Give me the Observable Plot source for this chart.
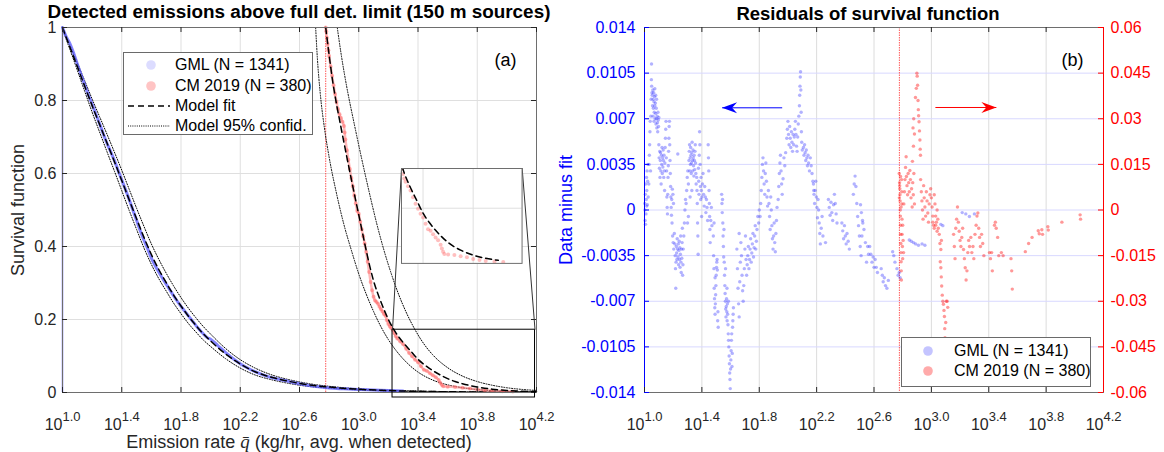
<!DOCTYPE html>
<html>
<head>
<meta charset="utf-8">
<script src="https://cdn.jsdelivr.net/npm/d3@7"></script>
<script src="https://cdn.jsdelivr.net/npm/@observablehq/plot@0.6"></script>
<style>
  html, body { margin: 0; padding: 0; background: #fff; }
  #wrap { position: relative; width: 1164px; height: 452px; overflow: hidden;
          font-family: "Liberation Sans", Arial, Helvetica, sans-serif; color: #262626; }
  #wrap svg { overflow: visible; }
  .abs { position: absolute; white-space: nowrap; }
</style>
</head>
<body>
<div id="wrap"></div>
<script>
// ================= DATA =================
// x axis: log10 of emission rate (kg/hr)
const xTickExps = [1.0, 1.4, 1.8, 2.2, 2.6, 3.0, 3.4, 3.8, 4.2];
const xTickLabels = ["1.0", "1.4", "1.8", "2.2", "2.6", "3.0", "3.4", "3.8", "4.2"];
const survTicks = [0, 0.2, 0.4, 0.6, 0.8, 1];
const gmlResTicks = [-0.014, -0.0105, -0.007, -0.0035, 0, 0.0035, 0.007, 0.0105, 0.014];
const cmResTicks = [-0.06, -0.045, -0.03, -0.015, 0, 0.015, 0.03, 0.045, 0.06];
const gmlStartExp = 1.0;      // GML detection limit (log10 kg/hr)
const cmThresholdExp = 2.777; // CM 2019 detection limit (log10 kg/hr)

// survival function [log10 q, S]
const gmlSurv = [[1.00,1.000],[1.025,0.975],[1.05,0.956],[1.075,0.930],[1.10,0.900],[1.125,0.871],[1.15,0.843],[1.175,0.815],[1.20,0.790],[1.225,0.763],[1.25,0.737],[1.275,0.709],[1.30,0.683],[1.325,0.660],[1.35,0.636],[1.375,0.609],[1.40,0.583],[1.425,0.556],[1.45,0.529],[1.475,0.500],[1.50,0.472],[1.525,0.443],[1.55,0.417],[1.575,0.394],[1.60,0.368],[1.625,0.348],[1.65,0.330],[1.675,0.313],[1.70,0.297],[1.725,0.281],[1.75,0.265],[1.775,0.250],[1.80,0.236],[1.825,0.223],[1.85,0.210],[1.875,0.197],[1.90,0.184],[1.925,0.172],[1.95,0.161],[1.975,0.151],[2.00,0.146],[2.05,0.128],[2.10,0.110],[2.15,0.093],[2.20,0.079],[2.25,0.067],[2.30,0.057],[2.35,0.049],[2.40,0.042],[2.45,0.037],[2.50,0.033],[2.55,0.028],[2.60,0.024],[2.65,0.020],[2.70,0.017],[2.75,0.015],[2.80,0.0125],[2.90,0.0100],[3.00,0.0080],[3.10,0.0066],[3.20,0.0052],[3.30,0.0040]];
const gmlFit = [[1.00,1.000],[1.05,0.946],[1.10,0.893],[1.15,0.839],[1.20,0.786],[1.25,0.735],[1.30,0.684],[1.35,0.633],[1.40,0.581],[1.45,0.528],[1.50,0.476],[1.55,0.425],[1.60,0.378],[1.65,0.337],[1.70,0.301],[1.75,0.267],[1.80,0.237],[1.85,0.209],[1.90,0.184],[1.95,0.161],[2.00,0.141],[2.10,0.106],[2.20,0.078],[2.30,0.057],[2.40,0.043],[2.50,0.033],[2.60,0.025],[2.70,0.019],[2.80,0.015],[3.00,0.0088],[3.20,0.0053],[3.40,0.0033],[3.60,0.0021],[3.80,0.0013],[4.00,0.0008],[4.20,0.0005]];
const gmlUpper = [[1.00,1.000],[1.05,0.952],[1.10,0.903],[1.15,0.854],[1.20,0.804],[1.25,0.756],[1.30,0.708],[1.35,0.659],[1.40,0.609],[1.45,0.557],[1.50,0.505],[1.55,0.455],[1.60,0.407],[1.65,0.365],[1.70,0.327],[1.75,0.292],[1.80,0.260],[1.85,0.231],[1.90,0.205],[1.95,0.181],[2.00,0.160],[2.10,0.121],[2.20,0.090],[2.30,0.067],[2.40,0.050],[2.50,0.038],[2.60,0.029],[2.70,0.022],[2.80,0.017],[3.00,0.010],[3.20,0.0062],[3.40,0.0039],[3.60,0.0025],[3.80,0.0016],[4.00,0.0010],[4.20,0.0006]];
const gmlLower = [[1.00,0.995],[1.05,0.940],[1.10,0.883],[1.15,0.825],[1.20,0.768],[1.25,0.714],[1.30,0.660],[1.35,0.607],[1.40,0.553],[1.45,0.499],[1.50,0.447],[1.55,0.396],[1.60,0.351],[1.65,0.312],[1.70,0.278],[1.75,0.245],[1.80,0.216],[1.85,0.189],[1.90,0.166],[1.95,0.144],[2.00,0.126],[2.10,0.093],[2.20,0.067],[2.30,0.048],[2.40,0.036],[2.50,0.027],[2.60,0.020],[2.70,0.015],[2.80,0.012],[3.00,0.007],[3.20,0.0042],[3.40,0.0026],[3.60,0.0016],[3.80,0.0010],[4.00,0.0006],[4.20,0.0004]];

const cmSurv = [[2.777,1.000],[2.78,0.990],[2.785,0.972],[2.79,0.955],[2.795,0.938],[2.80,0.922],[2.81,0.893],[2.82,0.868],[2.83,0.842],[2.84,0.818],[2.85,0.796],[2.86,0.777],[2.87,0.762],[2.88,0.752],[2.89,0.742],[2.90,0.730],[2.905,0.712],[2.91,0.693],[2.92,0.664],[2.93,0.638],[2.94,0.612],[2.95,0.588],[2.96,0.565],[2.97,0.540],[2.98,0.518],[2.99,0.497],[3.00,0.490],[3.01,0.468],[3.02,0.447],[3.03,0.428],[3.04,0.408],[3.05,0.385],[3.06,0.358],[3.07,0.330],[3.08,0.303],[3.09,0.280],[3.10,0.262],[3.11,0.252],[3.12,0.248],[3.13,0.243],[3.14,0.235],[3.15,0.228],[3.16,0.222],[3.17,0.215],[3.18,0.210],[3.19,0.198],[3.20,0.188],[3.21,0.181],[3.22,0.176],[3.23,0.171],[3.24,0.162],[3.25,0.154],[3.26,0.148],[3.28,0.140],[3.30,0.132],[3.32,0.120],[3.34,0.108],[3.36,0.099],[3.38,0.090],[3.40,0.083],[3.42,0.072],[3.44,0.062],[3.46,0.059],[3.48,0.053],[3.50,0.047],[3.52,0.042],[3.54,0.034],[3.55,0.027],[3.56,0.021],[3.57,0.017],[3.60,0.016],[3.65,0.015],[3.70,0.013],[3.75,0.011],[3.80,0.008],[3.85,0.006],[3.90,0.0045],[3.97,0.0035],[4.04,0.0025]];
const cmFit = [[2.777,1.000],[2.80,0.925],[2.825,0.850],[2.85,0.790],[2.875,0.737],[2.90,0.685],[2.925,0.634],[2.95,0.584],[2.975,0.535],[3.00,0.487],[3.025,0.438],[3.05,0.390],[3.075,0.345],[3.10,0.306],[3.125,0.275],[3.15,0.248],[3.175,0.223],[3.20,0.200],[3.25,0.164],[3.30,0.137],[3.35,0.114],[3.40,0.091],[3.45,0.074],[3.50,0.060],[3.55,0.048],[3.60,0.038],[3.65,0.030],[3.70,0.024],[3.80,0.015],[3.90,0.0092],[4.00,0.0056],[4.10,0.0035],[4.20,0.0022]];
const cmUpper = [[2.855,1.000],[2.88,0.930],[2.92,0.835],[2.97,0.735],[3.02,0.640],[3.07,0.550],[3.12,0.465],[3.17,0.390],[3.22,0.325],[3.27,0.268],[3.32,0.220],[3.38,0.172],[3.44,0.133],[3.50,0.103],[3.60,0.068],[3.70,0.045],[3.80,0.030],[3.90,0.020],[4.00,0.013],[4.10,0.0085],[4.20,0.0056]];
const cmLower = [[2.709,1.000],[2.72,0.920],[2.74,0.820],[2.77,0.720],[2.80,0.645],[2.85,0.545],[2.90,0.460],[2.95,0.390],[3.00,0.325],[3.05,0.270],[3.10,0.222],[3.15,0.180],[3.20,0.145],[3.25,0.116],[3.30,0.092],[3.35,0.072],[3.40,0.056],[3.50,0.034],[3.60,0.021],[3.70,0.013],[3.80,0.008],[3.90,0.0052],[4.00,0.0034],[4.10,0.0023],[4.20,0.0016]];

// zoomed region and where its magnified copy sits (data units of panel a)
const zoomBox = {L: [3.228, 4.19], S: [-0.0137, 0.172]};
const insetBox = {L: [3.289, 4.103], S: [0.355, 0.615]};
const insetSRange = [0, 0.172];
const insetGridExps = [3.4, 3.8];
const insetGridS = [0.1];
const insetGmlMaxExp = 3.36;  // extent of the curves shown inside the inset
const insetCmMaxExp = 4.03;

// residuals [log10 q, data minus fit]
const gmlResidual = [
[1.002,0.0005],[1.004,-0.0008],[1.006,0.0012],[1.008,0.0020],[1.010,-0.0003],[1.012,0.0008],[1.014,0.0025],[1.016,0.0015],[1.018,0.0030],[1.020,0.0004],[1.022,0.0022],[1.024,0.0035],[1.026,0.0010],[1.003,0.0000],[1.007,-0.0011],[1.015,0.0003],
[1.030,0.0020],[1.032,0.0035],[1.034,0.0042],[1.036,0.0050],[1.038,0.0060],[1.040,0.0068],[1.042,0.0030],[1.044,0.0072],[1.046,0.0085],[1.048,0.0100],[1.049,0.0112],[1.050,0.0095],[1.052,0.0090],
[1.054,0.0088],[1.056,0.0080],[1.058,0.0092],[1.060,0.0085],[1.062,0.0078],[1.064,0.0090],[1.066,0.0083],[1.068,0.0075],[1.070,0.0087],[1.072,0.0080],[1.074,0.0070],[1.076,0.0082],[1.078,0.0074],[1.080,0.0066],[1.082,0.0078],[1.084,0.0070],[1.086,0.0063],[1.088,0.0072],[1.090,0.0067],[1.092,0.0060],[1.094,0.0075],[1.096,0.0069],[1.098,0.0064],[1.100,0.0071],[1.060,0.0072],[1.066,0.0068],[1.072,0.0093],[1.078,0.0088],[1.084,0.0085],
[1.100,0.0050],[1.102,0.0040],[1.104,0.0032],[1.106,0.0045],[1.108,0.0025],[1.110,0.0038],[1.112,0.0044],[1.114,0.0030],[1.116,0.0020],[1.118,0.0042],[1.120,0.0035],[1.122,0.0048],[1.124,0.0028],[1.126,0.0040],[1.128,0.0033],[1.130,0.0046],[1.132,0.0038],[1.134,0.0025],[1.136,0.0042],[1.138,0.0030],[1.140,0.0015],[1.142,0.0036],[1.144,0.0048],[1.146,0.0055],[1.148,0.0062],[1.150,0.0068],[1.152,0.0040],[1.154,0.0030],[1.156,0.0010],[1.158,0.0002],[1.160,-0.0003],[1.162,0.0012],[1.164,0.0025],[1.166,0.0034],[1.168,0.0045],[1.170,0.0055],[1.172,0.0064],[1.174,0.0068],[1.176,0.0050],[1.178,0.0038],[1.180,0.0028],[1.182,0.0018],[1.184,0.0010],[1.186,0.0002],[1.188,-0.0004],[1.190,0.0008],[1.194,0.0016],[1.198,0.0012],[1.202,0.0005],
[1.192,-0.0010],[1.196,-0.0020],[1.200,-0.0025],[1.204,-0.0030],[1.208,-0.0018],[1.212,-0.0026],[1.214,-0.0035],[1.216,-0.0045],[1.218,-0.0060],[1.220,-0.0040],[1.222,-0.0028],[1.224,-0.0033],[1.226,-0.0038],[1.228,-0.0022],[1.230,-0.0030],[1.232,0.0043],[1.234,-0.0036],[1.236,-0.0026],[1.238,-0.0042],[1.240,-0.0031],[1.242,-0.0024],[1.244,-0.0038],[1.246,-0.0029],[1.248,-0.0044],[1.250,-0.0034],[1.252,-0.0020],[1.254,-0.0040],[1.256,-0.0048],[1.258,-0.0030],[1.260,-0.0037],[1.262,-0.0025],[1.264,-0.0014],[1.266,-0.0050],[1.268,-0.0042],[1.270,-0.0030],[1.274,-0.0020],[1.278,-0.0010],[1.282,0.0000],[1.286,0.0008],
[1.290,0.0005],[1.294,0.0015],[1.298,0.0025],[1.302,0.0030],[1.306,0.0020],[1.310,0.0038],[1.312,0.0045],[1.314,0.0050],[1.316,0.0030],[1.318,0.0040],[1.320,0.0035],[1.322,0.0048],[1.324,0.0042],[1.326,0.0028],[1.328,0.0036],[1.330,0.0044],[1.332,0.0052],[1.334,0.0038],[1.336,0.0030],[1.338,0.0046],[1.340,0.0040],[1.342,0.0034],[1.344,0.0026],[1.346,0.0042],[1.348,0.0038],[1.350,0.0031],[1.352,0.0045],[1.354,0.0050],[1.356,0.0036],[1.358,0.0028],[1.360,0.0020],[1.300,-0.0010],[1.306,-0.0005],[1.318,0.0010],[1.330,0.0015],
[1.364,0.0025],[1.366,0.0015],[1.368,0.0005],[1.370,-0.0010],[1.372,-0.0020],[1.374,-0.0034],[1.376,0.0032],[1.378,0.0022],[1.380,0.0012],[1.382,0.0042],[1.384,0.0060],[1.386,0.0050],[1.388,0.0035],[1.390,0.0018],[1.392,0.0008],[1.394,0.0025],[1.396,0.0015],[1.398,-0.0005],[1.400,0.0010],[1.404,0.0020],[1.408,0.0028],[1.412,0.0012],[1.416,0.0003],[1.420,0.0018],[1.424,0.0010],[1.428,-0.0002],[1.432,0.0008],[1.436,0.0002],[1.440,-0.0008],[1.444,0.0050],[1.446,0.0040],[1.448,0.0030],[1.450,0.0015],[1.452,0.0005],[1.454,-0.0005],[1.456,-0.0015],[1.458,-0.0025],[1.462,-0.0008],[1.466,0.0002],[1.470,-0.0012],
[1.480,-0.0020],[1.482,-0.0035],[1.484,-0.0045],[1.486,-0.0060],[1.488,-0.0068],[1.490,-0.0075],[1.492,-0.0080],[1.494,-0.0072],[1.496,-0.0065],[1.498,-0.0058],[1.500,-0.0050],[1.502,-0.0044],[1.504,-0.0040],[1.506,-0.0038],[1.508,-0.0046],[1.510,-0.0085],[1.512,-0.0078],[1.514,-0.0090],[1.485,-0.0010],[1.492,-0.0052],
[1.538,0.0012],[1.540,0.0005],[1.542,-0.0002],[1.544,0.0008],[1.546,-0.0010],[1.548,-0.0020],[1.550,-0.0028],[1.552,-0.0036],[1.554,-0.0015],
[1.556,-0.0040],[1.558,-0.0050],[1.560,-0.0058],[1.562,-0.0064],[1.564,-0.0070],[1.566,-0.0076],[1.568,-0.0082],[1.570,-0.0074],[1.572,-0.0068],[1.574,-0.0078],[1.576,-0.0085],[1.578,-0.0072],[1.580,-0.0080],[1.582,-0.0088],[1.584,-0.0095],[1.586,-0.0100],[1.588,-0.0105],[1.590,-0.0112],[1.592,-0.0118],[1.594,-0.0125],[1.596,-0.0130],[1.598,-0.0137],[1.600,-0.0122],[1.602,-0.0115],[1.604,-0.0108],[1.606,-0.0100],[1.608,-0.0095],[1.610,-0.0120],[1.612,-0.0110],[1.614,-0.0090],[1.616,-0.0085],[1.618,-0.0080],[1.620,-0.0075],[1.565,-0.0045],[1.575,-0.0060],[1.585,-0.0070],
[1.644,-0.0030],[1.648,-0.0045],[1.652,-0.0060],[1.656,-0.0072],[1.660,-0.0082],[1.664,-0.0055],[1.668,-0.0040],[1.672,-0.0025],[1.676,-0.0035],[1.680,-0.0050],[1.684,-0.0062],[1.688,-0.0070],[1.692,-0.0058],[1.696,-0.0045],[1.700,-0.0030],[1.704,-0.0020],[1.708,-0.0038],[1.660,-0.0018],
[1.712,-0.0050],[1.716,-0.0042],[1.720,-0.0035],[1.724,-0.0028],[1.728,-0.0045],[1.732,-0.0038],[1.736,-0.0030],[1.740,-0.0022],[1.744,-0.0040],[1.748,-0.0033],[1.752,-0.0026],[1.756,-0.0018],[1.760,-0.0036],[1.764,-0.0029],[1.768,-0.0020],[1.772,-0.0012],[1.776,-0.0030],[1.780,-0.0024],[1.784,-0.0015],[1.790,-0.0005],[1.796,-0.0010],[1.800,0.0000],
[1.806,-0.0005],[1.810,0.0005],[1.814,0.0015],[1.818,0.0025],[1.822,0.0035],[1.826,0.0040],[1.830,0.0030],[1.834,0.0020],[1.838,0.0012],[1.842,0.0028],[1.846,0.0036],[1.850,0.0022],[1.854,0.0010],[1.858,0.0003],
[1.864,0.0015],[1.868,0.0005],[1.872,-0.0005],[1.876,-0.0015],[1.880,0.0010],[1.884,0.0000],[1.888,-0.0012],[1.892,-0.0022],[1.896,-0.0030],[1.900,-0.0020],[1.904,-0.0010],[1.908,-0.0025],[1.912,-0.0032],[1.916,-0.0018],[1.920,-0.0008],[1.924,0.0002],
[1.932,0.0008],[1.936,0.0018],[1.940,0.0028],[1.944,0.0036],[1.948,0.0042],[1.952,0.0030],[1.956,0.0020],[1.960,0.0012],[1.966,0.0024],[1.972,0.0040],[1.978,0.0034],[1.984,0.0044],
[1.992,0.0055],[1.996,0.0062],[2.000,0.0068],[2.004,0.0058],[2.008,0.0050],[2.012,0.0064],[2.016,0.0055],[2.020,0.0048],[2.024,0.0060],[2.028,0.0052],[2.032,0.0045],[2.036,0.0058],[2.040,0.0050],[2.044,0.0056],[2.048,0.0062],[2.052,0.0068],[2.056,0.0058],[2.060,0.0049],[2.064,0.0045],[2.068,0.0056],[2.072,0.0066],[2.076,0.0072],[2.080,0.0080],[2.082,0.0088],[2.084,0.0095],[2.086,0.0102],[2.088,0.0106],[2.090,0.0092],[2.092,0.0075],[2.094,0.0060],[2.096,0.0052],[2.100,0.0046],
[2.108,0.0048],[2.112,0.0042],[2.116,0.0050],[2.120,0.0044],[2.124,0.0038],[2.128,0.0046],[2.132,0.0040],[2.136,0.0034],[2.140,0.0042],[2.144,0.0036],[2.150,0.0030],[2.156,0.0040],[2.162,0.0034],[2.168,0.0028],[2.174,0.0022],[2.180,0.0015],
[2.178,0.0020],[2.182,0.0012],[2.186,0.0005],[2.190,0.0015],[2.194,0.0022],[2.198,0.0010],[2.202,0.0002],[2.206,-0.0006],[2.210,0.0008],[2.214,0.0000],[2.218,-0.0010],[2.222,-0.0018],[2.226,-0.0026],[2.232,-0.0014],[2.238,-0.0005],[2.244,-0.0020],
[2.262,-0.0025],[2.282,0.0008],[2.288,0.0002],[2.294,-0.0004],[2.300,0.0006],[2.306,-0.0002],[2.312,-0.0008],[2.318,0.0004],[2.324,0.0012],[2.330,0.0005],[2.336,-0.0003],[2.342,-0.0010],
[2.376,-0.0010],[2.382,-0.0016],[2.388,-0.0022],[2.394,-0.0012],[2.400,-0.0020],[2.406,-0.0026],[2.412,-0.0018],[2.420,-0.0024],[2.428,-0.0030],
[2.456,0.0012],[2.462,0.0020],[2.468,0.0026],[2.474,0.0018],[2.480,0.0005],[2.486,-0.0005],[2.492,-0.0012],[2.498,-0.0020],[2.504,-0.0028],[2.510,-0.0035],[2.516,-0.0020],[2.522,-0.0010],[2.530,-0.0015],[2.540,-0.0025],
[2.506,0.0004],[2.512,-0.0002],[2.520,-0.0008],[2.548,-0.0040],[2.556,-0.0028],[2.562,-0.0034],[2.570,-0.0028],[2.578,-0.0034],[2.586,-0.0040],[2.594,-0.0036],[2.600,-0.0044],[2.608,-0.0038],[2.616,-0.0044],[2.624,-0.0048],[2.650,-0.0045],[2.658,-0.0050],[2.664,-0.0055],[2.672,-0.0052],[2.680,-0.0058],[2.690,-0.0060],[2.700,-0.0054],[2.730,-0.0032],[2.738,-0.0035],[2.746,-0.0040],[2.760,-0.0045],[2.768,-0.0050],[2.776,-0.0048],[2.782,-0.0052],
[2.846,-0.0023],[2.860,-0.0024],[2.875,-0.0025],[2.890,-0.0026],[2.910,-0.0027],[2.935,-0.0026],[2.955,-0.0027],[3.066,-0.0011],[3.080,-0.0012],[3.215,-0.0002],[3.240,-0.0003],[3.265,-0.0005],[3.300,-0.0003]
];
const cmResidual = [
[2.776,0.012],[2.778,0.009],[2.780,0.007],[2.781,0.005],[2.782,0.003],[2.783,0.000],[2.784,-0.002],[2.785,-0.005],[2.786,-0.008],[2.787,-0.011],[2.788,-0.014],[2.789,-0.017],[2.790,-0.020],[2.791,-0.023],[2.792,0.010],[2.793,0.006],[2.794,0.002],[2.795,-0.003],[2.777,0.004],[2.779,0.008],[2.785,0.011],[2.789,0.001],[2.796,-0.008],[2.798,-0.012],[2.800,-0.016],
[2.800,-0.005],[2.803,-0.010],[2.806,-0.014],[2.808,0.002],[2.812,0.006],[2.816,0.010],[2.820,0.014],[2.824,0.0175],[2.826,0.011],[2.830,0.008],[2.834,0.005],[2.838,0.012],[2.842,0.009],[2.846,0.006],[2.850,0.013],[2.854,0.010],[2.858,0.004],[2.862,0.007],[2.866,0.001],[2.870,0.009],[2.874,0.005],[2.878,0.012],[2.882,0.002],
[2.872,0.027],[2.877,0.030],[2.882,0.025],[2.889,0.037],[2.895,0.040],[2.899,0.045],[2.901,0.044],[2.904,0.041],[2.907,0.036],[2.909,0.033],[2.911,0.031],[2.914,0.029],[2.917,0.026],[2.920,0.023],[2.922,0.020],[2.924,0.018],[2.868,0.016],[2.875,0.021],
[2.925,0.010],[2.930,0.006],[2.934,0.003],[2.938,0.000],[2.942,-0.003],[2.946,0.008],[2.950,0.004],[2.955,0.001],[2.960,-0.002],[2.965,0.006],[2.970,0.003],[2.975,-0.001],[2.980,-0.004],[2.985,0.002],[2.990,0.005],[2.995,0.007],[3.000,0.004],[3.005,0.001],[3.010,-0.002],[3.015,-0.005],[3.020,0.005],[3.025,0.002],[3.030,-0.002],[3.035,-0.004],[3.040,0.000],[3.045,-0.003],
[3.010,-0.004],[3.020,-0.006],[3.030,-0.005],[3.040,-0.007],[3.048,-0.006],[3.055,-0.008],[3.060,-0.011],[3.066,-0.013],[3.070,-0.010],
[3.062,-0.017],[3.066,-0.019],[3.069,-0.022],[3.072,-0.025],[3.076,-0.028],[3.080,-0.030],[3.084,-0.031],[3.088,-0.033],[3.091,-0.035],[3.093,-0.039],[3.095,-0.042],[3.097,-0.044],[3.100,-0.037],[3.104,-0.030],[3.110,-0.030],[3.114,-0.032],
[3.155,-0.008],[3.160,-0.012],[3.165,-0.016],[3.170,-0.006],[3.176,-0.003],[3.182,0.001],[3.188,-0.004],[3.194,-0.007],[3.200,-0.010],[3.206,-0.012],[3.212,-0.009],[3.218,-0.006],[3.224,-0.013],[3.230,-0.016],[3.236,-0.019],[3.242,-0.023],[3.248,-0.020],[3.254,-0.014],[3.260,-0.010],[3.266,-0.012],
[3.275,-0.009],[3.282,-0.014],[3.290,-0.012],[3.296,-0.016],[3.304,-0.008],[3.312,-0.005],[3.318,-0.002],[3.324,-0.001],[3.330,-0.006],[3.336,-0.009],[3.342,-0.012],[3.350,-0.008],[3.358,-0.011],[3.366,-0.015],
[3.405,-0.014],[3.412,-0.016],[3.420,-0.014],[3.425,-0.020],[3.440,-0.005],[3.446,-0.004],[3.452,-0.006],[3.462,-0.009],[3.470,-0.015],[3.488,-0.014],[3.500,-0.015],[3.555,-0.016],[3.560,-0.020],[3.564,-0.026],
[3.655,-0.0137],[3.678,-0.011],[3.702,-0.009],[3.745,-0.0068],[3.752,-0.0078],[3.770,-0.0065],[3.775,-0.0080],[3.812,-0.0055],[3.815,-0.0066],[3.910,-0.0040],[4.037,-0.0016],[4.040,-0.0030]
];
// direction arrows in panel (b): from/to in log10 q, at a residual level of their own axis
const blueArrow = {from: 1.96, to: 1.541, value: 0.00784};
const redArrow = {from: 3.028, to: 3.453, value: 0.0337};

// ================= RENDER =================
const FONT = '"Liberation Sans", Arial, Helvetica, sans-serif';
const INK = "#262626";
const wrap = document.getElementById("wrap");
const pow = e => 10 ** e;
const TICK = 5;

function put(node, x, y) {
  const d = document.createElement("div");
  d.className = "abs"; d.style.left = x + "px"; d.style.top = y + "px";
  d.appendChild(node); wrap.appendChild(d); return d;
}
function htmlText(html, x, y, css) {
  const d = document.createElement("div");
  d.className = "abs"; d.innerHTML = html;
  d.style.left = x + "px"; d.style.top = y + "px";
  Object.assign(d.style, css || {});
  wrap.appendChild(d); return d;
}
function xTickText(fill) {
  return [
    Plot.text(xTickExps, {x: pow, text: () => "10", frameAnchor: "bottom", textAnchor: "end", dy: 37, fontSize: 16, fill}),
    Plot.text(xTickExps, {x: pow, text: (e, i) => xTickLabels[i], frameAnchor: "bottom", textAnchor: "start", dy: 28.5, fontSize: 13, fill})
  ];
}
const arrowHead = { draw(ctx) { ctx.moveTo(0, 0); ctx.lineTo(15, -5.5); ctx.lineTo(10, 0); ctx.lineTo(15, 5.5); ctx.closePath(); } };

// ---------- panel (a) ----------
const A = {w: 582, h: 452, ml: 62, mr: 46, mt: 27, mb: 60};
const aW = A.w - A.ml - A.mr, aH = A.h - A.mt - A.mb;
const LX = d => pow(d[0]), LY = d => d[1];
const dotted = {stroke: "#000", strokeWidth: 1, strokeDasharray: "1,1.6", curve: "monotone-x"};
const dashed = {stroke: "#000", strokeWidth: 1.5, strokeDasharray: "6,4", curve: "monotone-x"};
const redDotted = {stroke: "#ff2020", strokeOpacity: 0.75, strokeWidth: 1, strokeDasharray: "1.5,1"};

const chartA = Plot.plot({
  width: A.w, height: A.h, marginLeft: A.ml, marginRight: A.mr, marginTop: A.mt, marginBottom: A.mb,
  style: {fontFamily: FONT, fontSize: "16px", color: INK, background: "transparent"},
  x: {type: "log", domain: [pow(1.0), pow(4.2)], axis: null},
  y: {domain: [0, 1]},
  marks: [
    Plot.gridX(xTickExps.map(pow), {stroke: "#dfdfdf", strokeOpacity: 1}),
    Plot.gridY(survTicks, {stroke: "#dfdfdf", strokeOpacity: 1}),
    Plot.ruleX([pow(cmThresholdExp)], {y1: 0, y2: 1, ...redDotted}),
    Plot.line(gmlUpper, {x: LX, y: LY, ...dotted}),
    Plot.line(gmlLower, {x: LX, y: LY, ...dotted}),
    Plot.line(gmlSurv, {x: LX, y: LY, stroke: "#5a5aff", strokeWidth: 3, strokeOpacity: 0.75, curve: "monotone-x"}),
    Plot.line(gmlFit, {x: LX, y: LY, ...dashed}),
    Plot.line(cmUpper, {x: LX, y: LY, ...dotted}),
    Plot.line(cmLower, {x: LX, y: LY, ...dotted}),
    Plot.line(cmSurv, {x: LX, y: LY, stroke: "#ff8080", strokeWidth: 2.5, strokeOpacity: 0.55, curve: "monotone-x"}),
    Plot.dot(cmSurv, {x: LX, y: LY, r: 2, fill: "#ff6060", fillOpacity: 0.45, stroke: "none"}),
    Plot.line(cmFit, {x: LX, y: LY, ...dashed}),
    Plot.ruleX([pow(gmlStartExp)], {y1: 0, y2: 1, stroke: "#7b7bff", strokeWidth: 1.5}),
    Plot.frame({stroke: "#6e6e6e"}),
    Plot.ruleX(xTickExps, {x: pow, insetTop: aH - TICK, stroke: INK}),
    Plot.ruleX(xTickExps, {x: pow, insetBottom: aH - TICK, stroke: INK}),
    Plot.ruleY(survTicks, {insetRight: aW - TICK, stroke: INK}),
    Plot.ruleY(survTicks, {insetLeft: aW - TICK, stroke: INK}),
    Plot.rect([zoomBox], {x1: d => pow(d.L[0]), x2: d => pow(d.L[1]), y1: d => d.S[0], y2: d => d.S[1], fill: "none", stroke: "#000", strokeWidth: 1}),
    Plot.link([0, 1], {x1: i => pow(insetBox.L[i]), y1: () => insetBox.S[1], x2: i => pow(zoomBox.L[i]), y2: () => zoomBox.S[1], stroke: "#333", strokeWidth: 1}),
    Plot.axisY({ticks: survTicks, tickSize: 0, tickPadding: 6, tickFormat: d => String(d), label: null, color: INK}),
    ...xTickText(INK),
    Plot.text(["(a)"], {frameAnchor: "top-right", dx: -31, dy: 26, textAnchor: "middle", fontSize: 18, fill: "#000"})
  ]
});
put(chartA, 0, 0);

// inset (magnified view of zoomBox), positioned through panel (a) scales
const sx = chartA.scale("x"), sy = chartA.scale("y");
const ix0 = sx.apply(pow(insetBox.L[0])), ix1 = sx.apply(pow(insetBox.L[1]));
const iy0 = sy.apply(insetBox.S[1]), iy1 = sy.apply(insetBox.S[0]);
const inset = Plot.plot({
  width: ix1 - ix0, height: iy1 - iy0, margin: 0,
  style: {background: "white"},
  x: {type: "log", domain: [pow(zoomBox.L[0]), pow(zoomBox.L[1])], axis: null},
  y: {domain: insetSRange, axis: null},
  marks: [
    Plot.frame({fill: "white"}),
    Plot.gridX(insetGridExps.map(pow), {stroke: "#dfdfdf", strokeOpacity: 1}),
    Plot.gridY(insetGridS, {stroke: "#dfdfdf", strokeOpacity: 1}),
    Plot.line(gmlFit.filter(d => d[0] <= insetGmlMaxExp), {x: LX, y: LY, ...dashed, clip: true}),
    Plot.dot(cmSurv, {x: LX, y: LY, r: 2, fill: "#ff6060", fillOpacity: 0.4, stroke: "none", clip: true}),
    Plot.line(cmFit.filter(d => d[0] <= insetCmMaxExp), {x: LX, y: LY, ...dashed, clip: true}),
    Plot.frame({stroke: "#6e6e6e"})
  ]
});
put(inset, ix0, iy0);

// ---------- panel (b) ----------
const B = {w: 582, h: 452, ml: 62, mr: 61, mt: 27, mb: 60};
const bW = B.w - B.ml - B.mr, bH = B.h - B.mt - B.mb;
const baseOpts = {
  width: B.w, height: B.h, marginLeft: B.ml, marginRight: B.mr, marginTop: B.mt, marginBottom: B.mb,
  style: {fontFamily: FONT, fontSize: "16px", color: INK, background: "transparent"},
  x: {type: "log", domain: [pow(1.0), pow(4.2)], axis: null}
};
const chartB = Plot.plot({
  ...baseOpts,
  y: {domain: [-0.014, 0.014]},
  marks: [
    Plot.gridX(xTickExps.map(pow), {stroke: "#dcdcdc", strokeOpacity: 1}),
    Plot.gridY(gmlResTicks, {stroke: "#d8d8ff", strokeOpacity: 1}),
    Plot.ruleX([pow(cmThresholdExp)], redDotted),
    Plot.dot(gmlResidual, {x: LX, y: LY, r: 1.7, fill: "#2a2aff", fillOpacity: 0.36, stroke: "none"}),
    Plot.link([blueArrow], {x1: d => pow(d.from), x2: d => pow(d.to), y1: d => d.value, y2: d => d.value, stroke: "#0000ff", strokeWidth: 1}),
    Plot.dot([blueArrow], {x: d => pow(d.to), y: d => d.value, symbol: arrowHead, fill: "#0000ff", stroke: "none", r: 5}),
    Plot.frame({stroke: "#6e6e6e"}),
    Plot.ruleX([pow(1.0)], {stroke: "#0000ff", strokeWidth: 1}),
    Plot.ruleX(xTickExps, {x: pow, insetTop: bH - TICK, stroke: INK}),
    Plot.ruleX(xTickExps, {x: pow, insetBottom: bH - TICK, stroke: INK}),
    Plot.ruleY(gmlResTicks, {insetRight: bW - TICK, stroke: "#0000ff"}),
    Plot.axisY({ticks: gmlResTicks, tickSize: 0, tickPadding: 9, tickFormat: d => String(d), label: null, color: "#0000ff"}),
    ...xTickText(INK),
    Plot.text(["(b)"], {frameAnchor: "top-right", dx: -31, dy: 26, textAnchor: "middle", fontSize: 18, fill: "#000"})
  ]
});
put(chartB, 582, 0);
const chartB2 = Plot.plot({
  ...baseOpts,
  y: {domain: [-0.06, 0.06]},
  marks: [
    Plot.dot(cmResidual, {x: LX, y: LY, r: 1.7, fill: "#ff1a1a", fillOpacity: 0.45, stroke: "none"}),
    Plot.link([redArrow], {x1: d => pow(d.from), x2: d => pow(d.to), y1: d => d.value, y2: d => d.value, stroke: "#ff0000", strokeWidth: 1}),
    Plot.dot([redArrow], {x: d => pow(d.to), y: d => d.value, symbol: arrowHead, rotate: 180, fill: "#ff0000", stroke: "none", r: 5}),
    Plot.ruleX([pow(4.2)], {stroke: "#ff0000", strokeWidth: 1}),
    Plot.ruleY(cmResTicks, {insetLeft: bW - TICK, stroke: "#ff0000"}),
    Plot.axisY({anchor: "right", ticks: cmResTicks, tickSize: 0, tickPadding: 7, tickFormat: d => String(d), label: null, color: "#ff0000"})
  ]
});
put(chartB2, 582, 0);

// ---------- titles, labels, legends ----------
htmlText("Detected emissions above full det. limit (150 m sources)", 299, 2, {transform: "translateX(-50%)", fontWeight: "bold", fontSize: "18.9px", lineHeight: "19px", color: "#000"});
htmlText("Residuals of survival function", 868, 3.5, {transform: "translateX(-50%)", fontWeight: "bold", fontSize: "18.5px", lineHeight: "19px", color: "#000"});
htmlText('Emission rate <i style="font-family:\'Liberation Serif\',serif;font-size:19px">q\u0304</i> (kg/hr, avg. when detected)', 299, 433, {transform: "translateX(-50%)", fontSize: "18px", lineHeight: "18px", color: INK});
htmlText("Survival function", 18, 210, {transform: "translate(-50%,-50%) rotate(-90deg)", fontSize: "18px", lineHeight: "18px", color: INK});
htmlText("Data minus fit", 566, 210, {transform: "translate(-50%,-50%) rotate(-90deg)", fontSize: "18px", lineHeight: "18px", color: "#0000ff"});

function legend(x, y, w, h, rows) {
  const box = document.createElement("div");
  box.className = "abs";
  Object.assign(box.style, {left: x + "px", top: y + "px", width: w + "px", height: h + "px", border: "1px solid #6a6a6a", background: "#fff", boxSizing: "border-box"});
  for (const r of rows) {
    const sym = document.createElementNS("http://www.w3.org/2000/svg", "svg");
    sym.setAttribute("width", 48); sym.setAttribute("height", 12);
    sym.style.position = "absolute"; sym.style.left = "2px"; sym.style.top = (r.y - 6) + "px";
    if (r.kind === "dot") {
      sym.innerHTML = `<circle cx="${r.cx}" cy="6" r="4.8" fill="${r.color}"/>`;
    } else {
      sym.innerHTML = `<line x1="2" x2="44" y1="6" y2="6" stroke="#000" stroke-width="${r.kind === "dash" ? 1.5 : 1}" stroke-dasharray="${r.kind === "dash" ? "6,4" : "1,1.2"}"/>`;
    }
    box.appendChild(sym);
    const t = document.createElement("div");
    t.className = "abs"; t.textContent = r.label;
    Object.assign(t.style, {left: r.tx + "px", top: (r.y - 9) + "px", fontSize: "16px", lineHeight: "18px", color: "#000"});
    box.appendChild(t);
  }
  wrap.appendChild(box);
}
legend(123, 52, 190, 83, [
  {kind: "dot", color: "#dcdcff", cx: 25, y: 12, tx: 51, label: "GML (N = 1341)"},
  {kind: "dot", color: "#ffc4c4", cx: 25, y: 32.5, tx: 51, label: "CM 2019 (N = 380)"},
  {kind: "dash", y: 53, tx: 51, label: "Model fit"},
  {kind: "dotted", y: 72.5, tx: 51, label: "Model 95% confid."}
]);
legend(901, 337, 190, 50, [
  {kind: "dot", color: "#c4c4ff", cx: 24, y: 13, tx: 52, label: "GML (N = 1341)"},
  {kind: "dot", color: "#ffaaaa", cx: 24, y: 33, tx: 52, label: "CM 2019 (N = 380)"}
]);
</script>
</body>
</html>
